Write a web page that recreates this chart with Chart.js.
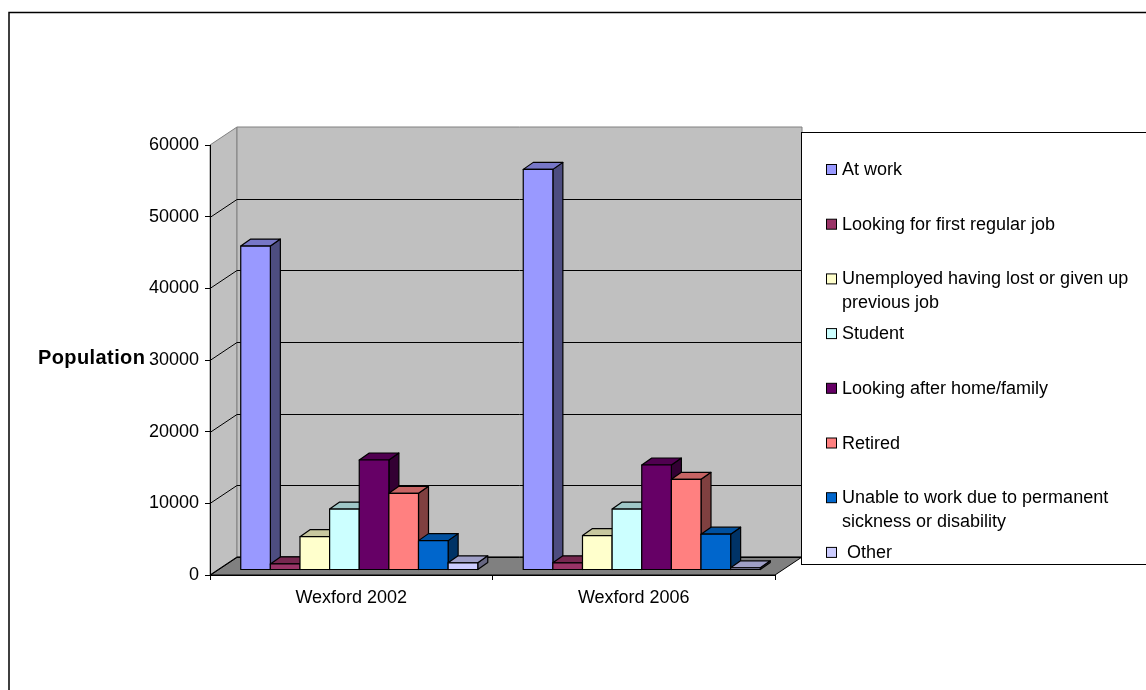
<!DOCTYPE html>
<html>
<head>
<meta charset="utf-8">
<script src="https://cdn.jsdelivr.net/npm/chart.js@4.4.1/dist/chart.umd.min.js"></script>
<style>
  body { margin: 0; background: #fff; }
  canvas { display: block; }
</style>
</head>
<body>
<canvas id="chart" width="1146" height="690"></canvas>
<script>
// data
const categories = ['Wexford 2002', 'Wexford 2006'];
const seriesLabels = [
  'At work',
  'Looking for first regular job',
  'Unemployed having lost or given up previous job',
  'Student',
  'Looking after home/family',
  'Retired',
  'Unable to work due to permanent sickness or disability',
  ' Other'
];
const atWork       = [45200, 55900];
const firstJob     = [850, 1000];
const unemployed   = [4650, 4800];
const student      = [8500, 8500];
const homeFamily   = [15350, 14650];
const retired      = [10700, 12650];
const unableToWork = [4100, 5000];
const other        = [1000, 300];
const seriesColors = ['#9999FF', '#993366', '#FFFFCC', '#CCFFFF', '#660066', '#FF8080', '#0066CC', '#CCCCFF'];
const yMax = 60000;
const yStep = 10000;

const seriesValues = [atWork, firstJob, unemployed, student, homeFamily, retired, unableToWork, other];

// 3D look
const WALL_DX = 27, WALL_DY = 18;
const BAR_DX = 10, BAR_DY = 7;
const BAR_OFF_X = 8, BAR_OFF_Y = 5;
const FONT = 'Arial, "Liberation Sans", sans-serif';

function shade(hex, f) {
  const n = parseInt(hex.slice(1), 16);
  const r = Math.round(((n >> 16) & 255) * f);
  const g = Math.round(((n >> 8) & 255) * f);
  const b = Math.round((n & 255) * f);
  return `rgb(${r},${g},${b})`;
}

function poly(ctx, pts) {
  ctx.beginPath();
  ctx.moveTo(pts[0][0], pts[0][1]);
  for (let i = 1; i < pts.length; i++) ctx.lineTo(pts[i][0], pts[i][1]);
  ctx.closePath();
}

// simple word wrap, keeps a leading space
function wrapText(ctx, text, maxWidth) {
  const words = text.split(' ');
  const lines = [];
  let line = words[0];
  for (let i = 1; i < words.length; i++) {
    const test = line + ' ' + words[i];
    if (line.trim() !== '' && ctx.measureText(test).width > maxWidth) {
      lines.push(line);
      line = words[i];
    } else {
      line = test;
    }
  }
  lines.push(line);
  return lines;
}

const threeD = {
  id: 'threeD',
  beforeDraw(chart) {
    const {ctx, chartArea: a, scales: {y}} = chart;
    ctx.save();
    // outer frame
    ctx.strokeStyle = '#000';
    ctx.lineWidth = 1.5;
    ctx.strokeRect(9, 12.5, 1300, 900);

    ctx.lineWidth = 1;
    // left side wall
    ctx.fillStyle = '#C0C0C0';
    ctx.strokeStyle = '#808080';
    poly(ctx, [[a.left, a.bottom], [a.left + WALL_DX, a.bottom - WALL_DY],
               [a.left + WALL_DX, a.top - WALL_DY], [a.left, a.top]]);
    ctx.fill(); ctx.stroke();
    // back wall
    poly(ctx, [[a.left + WALL_DX, a.top - WALL_DY], [a.right + WALL_DX, a.top - WALL_DY],
               [a.right + WALL_DX, a.bottom - WALL_DY], [a.left + WALL_DX, a.bottom - WALL_DY]]);
    ctx.fill(); ctx.stroke();
    // floor
    ctx.fillStyle = '#808080';
    ctx.strokeStyle = '#000';
    poly(ctx, [[a.left, a.bottom], [a.right, a.bottom],
               [a.right + WALL_DX, a.bottom - WALL_DY], [a.left + WALL_DX, a.bottom - WALL_DY]]);
    ctx.fill(); ctx.stroke();
    // gridlines on walls
    ctx.strokeStyle = '#000';
    y.ticks.forEach(t => {
      if (t.value >= y.max) return;
      const py = Math.round(y.getPixelForValue(t.value)) + 0.5;
      ctx.beginPath();
      ctx.moveTo(a.left, py);
      ctx.lineTo(a.left + WALL_DX, py - WALL_DY);
      ctx.lineTo(a.right + WALL_DX, py - WALL_DY);
      ctx.stroke();
    });
    ctx.restore();
  },
  beforeDatasetsDraw(chart) {
    const ctx = chart.ctx;
    ctx.save();
    ctx.lineWidth = 1.2;
    ctx.strokeStyle = '#000';
    ctx.lineJoin = 'round';
    const n = chart.data.labels.length;
    for (let c = 0; c < n; c++) {
      chart.data.datasets.forEach((ds, di) => {
        const el = chart.getDatasetMeta(di).data[c];
        const col = ds.backgroundColor;
        const x0 = el.x - el.width / 2 + BAR_OFF_X;
        const x1 = el.x + el.width / 2 + BAR_OFF_X;
        const yt = el.y - BAR_OFF_Y;
        const yb = el.base - BAR_OFF_Y;
        // side
        ctx.fillStyle = shade(col, 0.5);
        poly(ctx, [[x1, yt], [x1 + BAR_DX, yt - BAR_DY], [x1 + BAR_DX, yb - BAR_DY], [x1, yb]]);
        ctx.fill(); ctx.stroke();
        // top
        ctx.fillStyle = shade(col, 0.78);
        poly(ctx, [[x0, yt], [x0 + BAR_DX, yt - BAR_DY], [x1 + BAR_DX, yt - BAR_DY], [x1, yt]]);
        ctx.fill(); ctx.stroke();
        // front
        ctx.fillStyle = col;
        poly(ctx, [[x0, yt], [x1, yt], [x1, yb], [x0, yb]]);
        ctx.fill(); ctx.stroke();
      });
    }
    ctx.restore();
    return false;
  },
  afterDraw(chart) {
    const {ctx, scales: {y}} = chart;
    ctx.save();
    // axis title, written across
    ctx.fillStyle = '#000';
    ctx.font = 'bold 20px ' + FONT;
    ctx.letterSpacing = '0.4px';
    ctx.textBaseline = 'middle';
    ctx.textAlign = 'left';
    ctx.fillText('Population', 38, y.getPixelForValue(30000) - 2);
    ctx.letterSpacing = '0px';

    // legend box
    ctx.fillStyle = '#fff';
    ctx.strokeStyle = '#000';
    ctx.lineWidth = 1;
    ctx.fillRect(801.5, 132.5, 400, 432);
    ctx.strokeRect(801.5, 132.5, 400, 432);
    ctx.font = '18px ' + FONT;
    ctx.textBaseline = 'alphabetic';
    chart.data.datasets.forEach((ds, i) => {
      const cy = 168.5 + i * 54.7;
      ctx.fillStyle = ds.backgroundColor;
      ctx.fillRect(826.5, cy - 4, 10, 10);
      ctx.strokeStyle = '#000';
      ctx.strokeRect(826.5, cy - 4, 10, 10);
      ctx.fillStyle = '#000';
      const lines = wrapText(ctx, ds.label, 305);
      lines.forEach((ln, k) => ctx.fillText(ln, 842, cy + 6.5 + k * 24));
    });
    ctx.restore();
  }
};

Chart.defaults.font.family = FONT;
Chart.defaults.font.size = 18;
Chart.defaults.color = '#000';

new Chart(document.getElementById('chart'), {
  type: 'bar',
  data: {
    labels: categories,
    datasets: seriesLabels.map((label, i) => ({
      label,
      data: seriesValues[i],
      backgroundColor: seriesColors[i],
      borderColor: '#000',
      borderWidth: 1
    }))
  },
  options: {
    responsive: false,
    animation: false,
    events: [],
    layout: { padding: { top: 145, right: 371, left: 0, bottom: 0 } },
    datasets: { bar: { categoryPercentage: 0.839, barPercentage: 1 } },
    plugins: { legend: { display: false }, tooltip: { enabled: false } },
    scales: {
      x: {
        grid: { drawOnChartArea: false, offset: true, tickLength: 5, tickColor: '#000' },
        border: { color: '#000' },
        ticks: { padding: 7, maxRotation: 0 },
        afterFit(scale) { scale.height = 115; }
      },
      y: {
        min: 0,
        max: yMax,
        ticks: { stepSize: yStep, padding: 6, callback: v => String(v) },
        grid: { drawOnChartArea: false, tickLength: 5, tickColor: '#000' },
        border: { color: '#000' },
        afterFit(scale) { scale.width = 210; }
      }
    }
  },
  plugins: [threeD]
});
</script>
</body>
</html>
